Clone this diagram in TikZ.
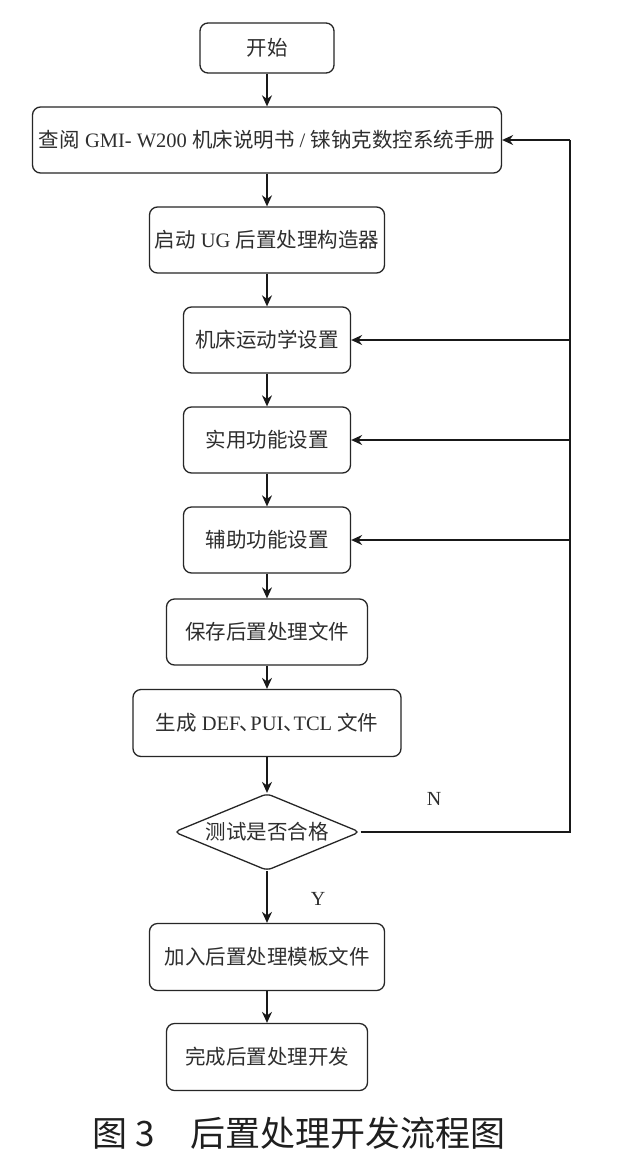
\documentclass[tikz,border=0pt]{standalone}
\usepackage{fontspec}
\setmainfont{Liberation Serif}
\newfontfamily\cjk{Noto Sans CJK SC}
\newcommand\zh[1]{{\cjk #1}}
\newcommand\dun{\kern-0.5pt{\cjk 、}\kern-10pt}
\usetikzlibrary{shapes.geometric,arrows.meta}
\begin{document}
\begin{tikzpicture}[x=1pt,y=-1pt,
  box/.style={draw=black!85, line width=1.3pt, rounded corners=8pt,
    minimum height=66pt, inner sep=0pt, text=black!82,
    font=\fontsize{20.5}{24}\selectfont},
  dia/.style={diamond, draw=black!85, line width=1.3pt, rounded corners=5pt,
    minimum width=186pt, minimum height=77pt, aspect=2.4, inner sep=0pt,
    text=black!82, font=\fontsize{20.5}{24}\selectfont},
  lbl/.style={text=black!82, font=\fontsize{20}{24}\selectfont},
  arr/.style={-{Stealth[length=11pt,width=10pt]}, line width=1.4pt, draw=black!90},
  ln/.style={line width=1.4pt, draw=black!90}]
\useasboundingbox (0,0) rectangle (620,1168);
\fill[white] (0,0) rectangle (620,1168);

\node[box, minimum width=134pt, minimum height=50pt] (start) at (267,48) {\zh{开始}};
\node[box, minimum width=469pt] (read) at (267,140)
  {\zh{查阅} GMI- W200 \zh{机床说明书} / \zh{铼钠克数控系统手册}};
\node[box, minimum width=235pt] (ug) at (267,240) {\zh{启动} UG \zh{后置处理构造器}};
\node[box, minimum width=167pt] (kin) at (267,340) {\zh{机床运动学设置}};
\node[box, minimum width=167pt] (util) at (267,440) {\zh{实用功能设置}};
\node[box, minimum width=167pt] (aux) at (267,540) {\zh{辅助功能设置}};
\node[box, minimum width=201pt] (save) at (267,632) {\zh{保存后置处理文件}};
\node[box, minimum width=268pt, minimum height=67pt] (gen) at (267,723)
  {\zh{生成} DEF\dun PUI\dun TCL \zh{文件}};
\node[dia] (test) at (267,832) {\zh{测试是否合格}};
\node[box, minimum width=235pt, minimum height=67pt] (add) at (267,957) {\zh{加入后置处理模板文件}};
\node[box, minimum width=201pt, minimum height=67pt] (done) at (267,1057) {\zh{完成后置处理开发}};

\node[lbl] (nlab) at (434,799) {N};
\node[lbl] (ylab) at (318,899) {Y};

\coordinate (rb) at (570,832);
\coordinate (rt) at (570,140);
\coordinate (rk) at (570,340);
\coordinate (ru) at (570,440);
\coordinate (ra) at (570,540);

\draw[arr] (start) -- (read);
\draw[arr] (read) -- (ug);
\draw[arr] (ug) -- (kin);
\draw[arr] (kin) -- (util);
\draw[arr] (util) -- (aux);
\draw[arr] (aux) -- (save);
\draw[arr] (save) -- (gen);
\draw[arr] (gen) -- (test);
\draw[arr] (test) -- (add);
\draw[arr] (add) -- (done);

\draw[ln] (test.east) -- (rb) -- (rt);
\draw[arr] (rt) -- (read.east);
\draw[arr] (rk) -- (kin.east);
\draw[arr] (ru) -- (util.east);
\draw[arr] (ra) -- (aux.east);

\node[font=\cjk\fontsize{35}{40}\selectfont, text=black!88, anchor=west] (cap) at (89,1133)
  {图 3\hspace{36pt}后置处理开发流程图};
\end{tikzpicture}
\end{document}
